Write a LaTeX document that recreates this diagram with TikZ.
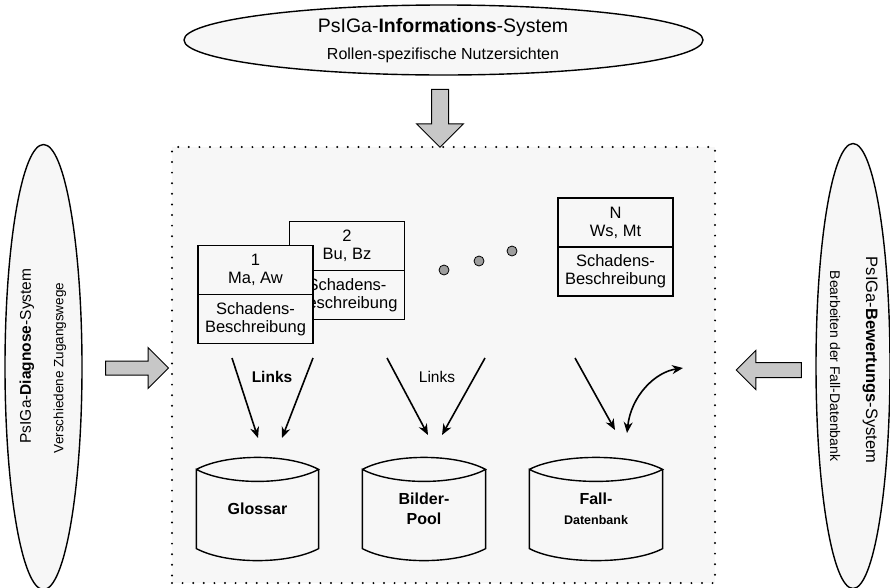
\documentclass[tikz,border=0pt]{standalone}
\usepackage{fontspec}
\setmainfont{Liberation Sans}
\usetikzlibrary{positioning,shapes.geometric,shapes.arrows,arrows.meta}
\definecolor{boxbg}{gray}{0.97}
\definecolor{arrowgray}{gray}{0.78}
\definecolor{dotgray}{gray}{0.62}

\begin{document}
\begin{tikzpicture}[x=1pt, y=-1pt, line width=1.2pt,
  sysell/.style={draw, ellipse, fill=boxbg, line width=1.4pt, inner sep=0pt},
  bigarrow/.style={draw, single arrow, fill=arrowgray, line width=1pt},
  cardtop/.style={draw, fill=boxbg, minimum width=115pt, minimum height=49pt, align=center, inner sep=0pt, outer sep=0pt, font=\fontsize{16.5}{18}\selectfont},
  cardbot/.style={cardtop, below=0pt of #1},
  ddot/.style={draw, circle, fill=dotgray, minimum size=10pt, inner sep=0pt, line width=0.8pt},
  dbtext/.style={minimum height=78pt, inner sep=0pt, align=center, font=\bfseries\fontsize{16}{20}\selectfont},
  linkarrow/.style={-{Stealth[length=11pt,width=9pt]}, line width=1.6pt}]
\useasboundingbox (0,0) rectangle (890,587);

% outer systems
\node[sysell, minimum width=519pt, minimum height=70pt] (info) at (443.5,40) {};
\node[font=\fontsize{19.5}{21}\selectfont] (infotitle) at (443,27) {PsIGa-\textbf{Informations}-System};
\node[font=\fontsize{16}{18}\selectfont] (infosub) at (443,55) {Rollen-spezifische Nutzersichten};

\node[sysell, minimum width=77pt, minimum height=445pt] (diag) at (43.5,367) {};
\node[rotate=90, font=\fontsize{15.5}{18}\selectfont] (diagtitle) at (27,356) {PsIGa-\textbf{Diagnose}-System};
\node[rotate=90, font=\fontsize{13.5}{16}\selectfont] (diagsub) at (60,368) {Verschiedene Zugangswege};

\node[sysell, minimum width=74pt, minimum height=445pt] (bew) at (853,366) {};
\node[rotate=-90, font=\fontsize{16.5}{18}\selectfont] (bewtitle) at (870,360) {PsIGa-\textbf{Bewertungs}-System};
\node[rotate=-90, font=\fontsize{14}{16}\selectfont] (bewsub) at (835,366) {Bearbeiten der Fall-Datenbank};

% core
\node[draw, fill=boxbg, line width=2.2pt, line cap=round, dash pattern=on 0pt off 10.6pt, minimum width=543pt, minimum height=436pt] (core) at (443.5,365) {};

\node[bigarrow, inner xsep=8pt, inner ysep=0pt, single arrow head extend=15pt, minimum height=58pt, shape border rotate=270] (infoarrow) at (440,114) {};
\node[bigarrow, inner xsep=0pt, inner ysep=6.5pt, single arrow head extend=13.5pt, minimum height=63pt] (diagarrow) at (133.5,368) {};
\node[bigarrow, inner xsep=0pt, inner ysep=7pt, single arrow head extend=12pt, minimum height=65pt, shape border rotate=180] (bewarrow) at (772.5,370) {};

% cases
\node[cardtop] (c2top) at (347,246) {2\\Bu, Bz};
\node[cardbot=c2top] (c2bot) {Schadens-\\Beschreibung};
\node[cardtop] (c1top) at (255.5,270) {1\\Ma, Aw};
\node[cardbot=c1top] (c1bot) {Schadens-\\Beschreibung};
\node[cardtop] (cNtop) at (615.5,222.5) {N\\Ws, Mt};
\node[cardbot=cNtop] (cNbot) {Schadens-\\Beschreibung};

\node[ddot] (d1) at (444,270) {};
\node[ddot] (d2) at (479,261) {};
\node[ddot] (d3) at (512,251) {};

% databases
\node[dbtext, minimum width=121pt] (glossar) at (257.5,509) {Glossar};
\node[dbtext, minimum width=122pt] (bilder) at (424,509) {Bilder-\\Pool};
\node[dbtext, minimum width=132pt] (fall) at (596,509) {Fall-\\{\fontsize{12.5}{15}\selectfont Datenbank}};
\foreach \db in {glossar,bilder,fall}
  \draw[line width=1.4pt] (\db.north west) .. controls +(30,-16) and +(-30,-16) .. (\db.north east)
    .. controls +(-30,16) and +(30,16) .. (\db.north west) -- (\db.south west)
    .. controls +(30,16) and +(-30,16) .. (\db.south east) -- (\db.north east);

% links
\coordinate (gA) at (232,358); \coordinate (gB) at (258,438);
\coordinate (gC) at (313,358); \coordinate (gD) at (282,438);
\coordinate (bA) at (387,358); \coordinate (bB) at (428,435);
\coordinate (bC) at (485,358); \coordinate (bD) at (442,435);
\coordinate (fA) at (575,358); \coordinate (fB) at (615,430);
\coordinate (fC) at (627,433); \coordinate (fD) at (683,368);
\draw[linkarrow] (gA) -- (gB);
\draw[linkarrow] (gC) -- (gD);
\draw[linkarrow] (bA) -- (bB);
\draw[linkarrow] (bC) -- (bD);
\draw[linkarrow] (fA) -- (fB);
\draw[linkarrow, {Stealth[length=11pt,width=9pt]}-{Stealth[length=11pt,width=9pt]}] (fC) .. controls (631,396) and (655,372) .. (fD);
\node[font=\bfseries\fontsize{15.5}{18}\selectfont] (linksg) at (272,377) {Links};
\node[font=\fontsize{15.5}{18}\selectfont] (linksb) at (437,377) {Links};
\end{tikzpicture}
\end{document}
